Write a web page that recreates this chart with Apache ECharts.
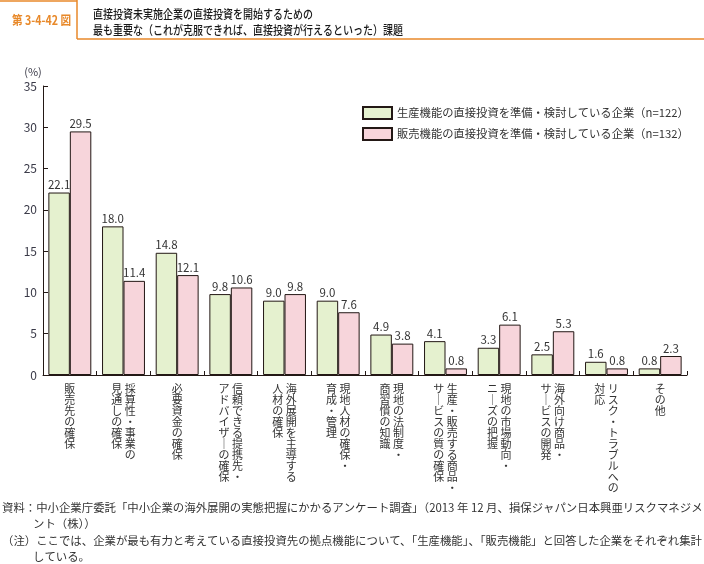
<!DOCTYPE html>
<html>
<head>
<meta charset="utf-8">
<script src="https://cdn.jsdelivr.net/npm/echarts@6/dist/echarts.min.js"></script>
<style>
html,body{margin:0;padding:0;background:#fff;}
#c{width:704px;height:564px;}
</style>
</head>
<body>
<div id="c"></div>
<script>
// Categories: "\n" separates vertical columns (reading order, right column first)
const categories = [
  '販売先の確保',
  '採算性・事業の\n見通しの確保',
  '必要資金の確保',
  '信頼できる提携先・\nアドバイザーの確保',
  '海外展開を主導する\n人材の確保',
  '現地人材の確保・\n育成・管理',
  '現地の法制度・\n商習慣の知識',
  '生産・販売する商品・\nサービスの質の確保',
  '現地の市場動向・\nニーズの把握',
  '海外向け商品・\nサービスの開発',
  'リスク・トラブルへの\n対応',
  'その他'
];
const seriesNames = [
  '生産機能の直接投資を準備・検討している企業（n=122）',
  '販売機能の直接投資を準備・検討している企業（n=132）'
];
const production = [22.1, 18.0, 14.8, 9.8, 9.0, 9.0, 4.9, 4.1, 3.3, 2.5, 1.6, 0.8];
const sales = [29.5, 11.4, 12.1, 10.6, 9.8, 7.6, 3.8, 0.8, 6.1, 5.3, 0.8, 2.3];
const yTicks = [0, 5, 10, 15, 20, 25, 30, 35];

const FONT = '"Noto Sans CJK JP", "Noto Sans", sans-serif';

function vertical(s) {
  const cols = s.split('\n').map(c => Array.from(c.replace(/ー/g, '｜')));
  const n = Math.max(...cols.map(c => c.length));
  const rev = cols.slice().reverse();
  const rows = [];
  for (let i = 0; i < n; i++) {
    rows.push(rev.map(c => c[i] || '　').join(' '));
  }
  return rows.join('\n');
}

const chart = echarts.init(document.getElementById('c'), null, {renderer: 'canvas'});
const orange = '#e8892a';
const option = {
  animation: false,
  textStyle: {fontFamily: FONT},
  grid: {left: 43, right: 17, top: 86, bottom: 189, containLabel: false},
  legend: {
    orient: 'vertical',
    left: 357, top: 101,
    icon: 'rect',
    itemWidth: 29, itemHeight: 12, itemGap: 7,
    textStyle: {fontFamily: FONT, fontSize: 11.3, color: '#333'},
    data: seriesNames
  },
  xAxis: {
    type: 'category',
    data: categories,
    axisLine: {lineStyle: {color: '#231815', width: 1}},
    axisTick: {show: true, inside: true, length: 4, lineStyle: {color: '#231815'}},
    axisLabel: {
      interval: 0, hideOverlap: false,
      margin: 8,
      fontFamily: FONT, fontSize: 11, lineHeight: 11,
      color: '#333', verticalAlign: 'top',
      formatter: v => vertical(v)
    }
  },
  yAxis: {
    type: 'value',
    min: yTicks[0], max: yTicks[yTicks.length - 1], interval: 5,
    splitLine: {show: false},
    axisLine: {show: true, lineStyle: {color: '#231815', width: 1}},
    axisTick: {show: true, inside: true, length: 5, lineStyle: {color: '#231815'}},
    axisLabel: {fontFamily: FONT, fontSize: 12, color: '#3a3a48', margin: 6}
  },
  series: [
    {
      name: seriesNames[0], type: 'bar', data: production,
      barGap: '0%', barCategoryGap: '20%',
      itemStyle: {color: '#e5f1cf', borderColor: '#231815', borderWidth: 1},
      label: {show: true, position: 'top', distance: 2, fontSize: 11.5, color: '#333',
        fontFamily: FONT, formatter: p => p.value.toFixed(1)}
    },
    {
      name: seriesNames[1], type: 'bar', data: sales,
      barGap: '0%', barCategoryGap: '20%',
      itemStyle: {color: '#f7d5db', borderColor: '#231815', borderWidth: 1},
      label: {show: true, position: 'top', distance: 2, fontSize: 11.5, color: '#333',
        fontFamily: FONT, formatter: p => p.value.toFixed(1)}
    }
  ],
  graphic: [
    {type: 'line', shape: {x1: 0, y1: 1, x2: 77, y2: 1}, style: {stroke: orange, lineWidth: 1.5}},
    {type: 'line', shape: {x1: 77, y1: 0, x2: 77, y2: 39}, style: {stroke: orange, lineWidth: 1.5}},
    {type: 'line', shape: {x1: 77, y1: 39, x2: 704, y2: 39}, style: {stroke: orange, lineWidth: 1.5}},
    {type: 'text', x: 12, y: 20, scaleX: 0.85,
      style: {text: '第 3-4-42 図', fill: orange, fontFamily: FONT, fontSize: 12.5, fontWeight: 'bold', verticalAlign: 'middle'}},
    {type: 'text', x: 93, y: 14, scaleX: 0.8,
      style: {text: '直接投資未実施企業の直接投資を開始するための', fill: '#1a1a1a', fontFamily: FONT, fontSize: 12.5, fontWeight: 500, verticalAlign: 'middle'}},
    {type: 'text', x: 93, y: 30, scaleX: 0.8,
      style: {text: '最も重要な（これが克服できれば、直接投資が行えるといった）課題', fill: '#1a1a1a', fontFamily: FONT, fontSize: 12.5, fontWeight: 500, verticalAlign: 'middle'}},
    {type: 'text', x: 33, y: 72,
      style: {text: '(%)', fill: '#3a3a48', fontFamily: FONT, fontSize: 11, align: 'center', verticalAlign: 'middle'}},
    {type: 'text', x: 2, y: 508,
      style: {text: '資料：中小企業庁委託「中小企業の海外展開の実態把握にかかるアンケート調査」（2013 年 12 月、損保ジャパン日本興亜リスクマネジメ', fill: '#333', fontFamily: FONT, fontSize: 11.4, verticalAlign: 'middle'}},
    {type: 'text', x: 33, y: 524,
      style: {text: 'ント（株））', fill: '#333', fontFamily: FONT, fontSize: 11.4, verticalAlign: 'middle'}},
    {type: 'text', x: 2, y: 541,
      style: {text: '（注）ここでは、企業が最も有力と考えている直接投資先の拠点機能について、「生産機能」、「販売機能」と回答した企業をそれぞれ集計', fill: '#333', fontFamily: FONT, fontSize: 11.4, verticalAlign: 'middle'}},
    {type: 'text', x: 33, y: 557,
      style: {text: 'している。', fill: '#333', fontFamily: FONT, fontSize: 11.4, verticalAlign: 'middle'}}
  ]
};
chart.setOption(option);
</script>
</body>
</html>
